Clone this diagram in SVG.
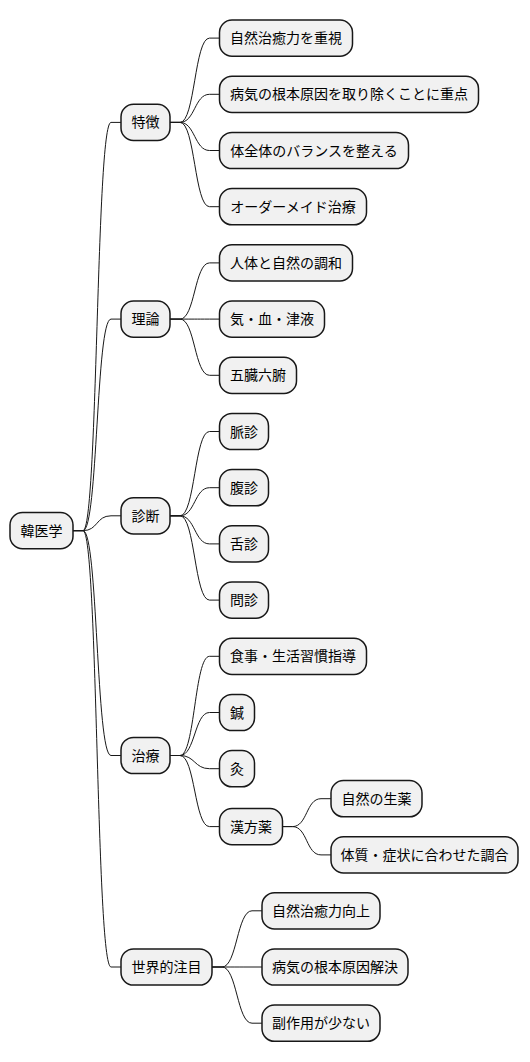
<svg xmlns="http://www.w3.org/2000/svg" width="530" height="1062" viewBox="0 0 530 1062">
<style>
.n rect{fill:#F1F1F1;stroke:#181818;stroke-width:1.5}
.n text{font-family:"Noto Sans CJK JP","Noto Sans CJK SC",sans-serif;font-size:14px;fill:#000;text-anchor:middle}
#connectors path{fill:none;stroke:#181818;stroke-width:1}
</style>
<rect width="530" height="1062" fill="#FFFFFF"/>
<g id="connectors">
<path d="M73,530.65 L83,530.65 C98,530.65 96,122.4 111,122.4 L121,122.4"/>
<path d="M73,530.65 L83,530.65 C98,530.65 96,319.1 111,319.1 L121,319.1"/>
<path d="M73,530.65 L83,530.65 C98,530.65 96,515.8 111,515.8 L121,515.8"/>
<path d="M73,530.65 L83,530.65 C98,530.65 96,755.5 111,755.5 L121,755.5"/>
<path d="M73,530.65 L83,530.65 C98,530.65 96,967 111,967 L121,967"/>
<path d="M170,122.4 L180,122.4 C195,122.4 194.5,38.1 209.5,38.1 L219.5,38.1"/>
<path d="M170,122.4 L180,122.4 C195,122.4 194.5,94.3 209.5,94.3 L219.5,94.3"/>
<path d="M170,122.4 L180,122.4 C195,122.4 194.5,150.5 209.5,150.5 L219.5,150.5"/>
<path d="M170,122.4 L180,122.4 C195,122.4 194.5,206.7 209.5,206.7 L219.5,206.7"/>
<path d="M170,319.1 L180,319.1 C195,319.1 194.5,262.9 209.5,262.9 L219.5,262.9"/>
<path d="M170,319.1 L180,319.1 C195,319.1 194.5,319.1 209.5,319.1 L219.5,319.1"/>
<path d="M170,319.1 L180,319.1 C195,319.1 194.5,375.3 209.5,375.3 L219.5,375.3"/>
<path d="M170,515.8 L180,515.8 C195,515.8 194.5,431.5 209.5,431.5 L219.5,431.5"/>
<path d="M170,515.8 L180,515.8 C195,515.8 194.5,487.7 209.5,487.7 L219.5,487.7"/>
<path d="M170,515.8 L180,515.8 C195,515.8 194.5,543.9 209.5,543.9 L219.5,543.9"/>
<path d="M170,515.8 L180,515.8 C195,515.8 194.5,600.1 209.5,600.1 L219.5,600.1"/>
<path d="M170,755.5 L180,755.5 C195,755.5 194.5,656.3 209.5,656.3 L219.5,656.3"/>
<path d="M170,755.5 L180,755.5 C195,755.5 194.5,712.5 209.5,712.5 L219.5,712.5"/>
<path d="M170,755.5 L180,755.5 C195,755.5 194.5,768.7 209.5,768.7 L219.5,768.7"/>
<path d="M170,755.5 L180,755.5 C195,755.5 194.5,826.6 209.5,826.6 L219.5,826.6"/>
<path d="M282.5,826.6 L292.5,826.6 C307.5,826.6 306,798.7 321,798.7 L331,798.7"/>
<path d="M282.5,826.6 L292.5,826.6 C307.5,826.6 306,854.9 321,854.9 L331,854.9"/>
<path d="M212,967 L222,967 C237,967 237,910.8 252,910.8 L262,910.8"/>
<path d="M212,967 L222,967 C237,967 237,967 252,967 L262,967"/>
<path d="M212,967 L222,967 C237,967 237,1023.2 252,1023.2 L262,1023.2"/>
</g>
<g id="root" class="n"><rect x="10" y="512.55" width="63" height="36.2" rx="12.5"/><text x="41.5" y="535.65">韓医学</text></g>
<g id="tokucho" class="n"><rect x="121" y="104.3" width="49" height="36.2" rx="12.5"/><text x="145.5" y="127.4">特徴</text></g>
<g id="riron" class="n"><rect x="121" y="301" width="49" height="36.2" rx="12.5"/><text x="145.5" y="324.1">理論</text></g>
<g id="shindan" class="n"><rect x="121" y="497.7" width="49" height="36.2" rx="12.5"/><text x="145.5" y="520.8">診断</text></g>
<g id="chiryo" class="n"><rect x="121" y="737.4" width="49" height="36.2" rx="12.5"/><text x="145.5" y="760.5">治療</text></g>
<g id="sekai" class="n"><rect x="121" y="948.9" width="91" height="36.2" rx="12.5"/><text x="166.5" y="972">世界的注目</text></g>
<g id="t1" class="n"><rect x="219.5" y="20" width="133" height="36.2" rx="12.5"/><text x="286" y="43.1">自然治癒力を重視</text></g>
<g id="t2" class="n"><rect x="219.5" y="76.2" width="259" height="36.2" rx="12.5"/><text x="349" y="99.3">病気の根本原因を取り除くことに重点</text></g>
<g id="t3" class="n"><rect x="219.5" y="132.4" width="189" height="36.2" rx="12.5"/><text x="314" y="155.5">体全体のバランスを整える</text></g>
<g id="t4" class="n"><rect x="219.5" y="188.6" width="147" height="36.2" rx="12.5"/><text x="293" y="211.7">オーダーメイド治療</text></g>
<g id="r1" class="n"><rect x="219.5" y="244.8" width="133" height="36.2" rx="12.5"/><text x="286" y="267.9">人体と自然の調和</text></g>
<g id="r2" class="n"><rect x="219.5" y="301" width="105" height="36.2" rx="12.5"/><text x="272" y="324.1">気・血・津液</text></g>
<g id="r3" class="n"><rect x="219.5" y="357.2" width="77" height="36.2" rx="12.5"/><text x="258" y="380.3">五臓六腑</text></g>
<g id="s1" class="n"><rect x="219.5" y="413.4" width="49" height="36.2" rx="12.5"/><text x="244" y="436.5">脈診</text></g>
<g id="s2" class="n"><rect x="219.5" y="469.6" width="49" height="36.2" rx="12.5"/><text x="244" y="492.7">腹診</text></g>
<g id="s3" class="n"><rect x="219.5" y="525.8" width="49" height="36.2" rx="12.5"/><text x="244" y="548.9">舌診</text></g>
<g id="s4" class="n"><rect x="219.5" y="582" width="49" height="36.2" rx="12.5"/><text x="244" y="605.1">問診</text></g>
<g id="c1" class="n"><rect x="219.5" y="638.2" width="147" height="36.2" rx="12.5"/><text x="293" y="661.3">食事・生活習慣指導</text></g>
<g id="c2" class="n"><rect x="219.5" y="694.4" width="35" height="36.2" rx="12.5"/><text x="237" y="717.5">鍼</text></g>
<g id="c3" class="n"><rect x="219.5" y="750.6" width="35" height="36.2" rx="12.5"/><text x="237" y="773.7">灸</text></g>
<g id="c4" class="n"><rect x="219.5" y="808.5" width="63" height="36.2" rx="12.5"/><text x="251" y="831.6">漢方薬</text></g>
<g id="k1" class="n"><rect x="331" y="780.6" width="91" height="36.2" rx="12.5"/><text x="376.5" y="803.7">自然の生薬</text></g>
<g id="k2" class="n"><rect x="331" y="836.8" width="187" height="36.2" rx="12.5"/><text x="424.5" y="859.9">体質・症状に合わせた調合</text></g>
<g id="w1" class="n"><rect x="262" y="892.7" width="118" height="36.2" rx="12.5"/><text x="321" y="915.8">自然治癒力向上</text></g>
<g id="w2" class="n"><rect x="262" y="948.9" width="146" height="36.2" rx="12.5"/><text x="335" y="972">病気の根本原因解決</text></g>
<g id="w3" class="n"><rect x="262" y="1005.1" width="118" height="36.2" rx="12.5"/><text x="321" y="1028.2">副作用が少ない</text></g>
</svg>
